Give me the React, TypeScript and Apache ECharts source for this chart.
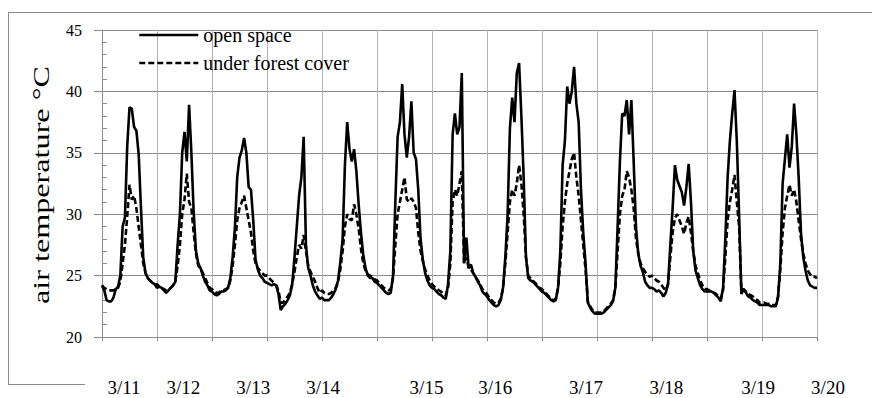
import React, { useEffect, useRef } from "react";
import * as echarts from "echarts";

const seriesNames = ["open space", "under forest cover"];
const yAxisTitle = "air temperature °C";
const dateLabels = ["3/11", "3/12", "3/13", "3/14", "3/15", "3/16", "3/17", "3/18", "3/19", "3/20"];
// where each date text sits, in days from the start of the record
const dateLabelDays = [0.4, 1.48, 2.75, 4.02, 5.9, 7.15, 8.8, 10.26, 11.93, 13.2];
const dayCount = 13;
const stepsPerDay = 24;
const yMin = 20;
const yMax = 45;
const yStep = 5;

// hourly air temperature, open space
const openSpace = [
  24.2, 23.8, 23.0, 22.9, 22.9, 23.2, 23.9, 24.1, 25.0, 29.0, 29.7, 35.5, 38.7, 38.6, 37.1, 36.8, 34.9, 30.5, 26.5, 25.2, 24.8, 24.6, 24.4, 24.3,
  24.0, 24.1, 24.0, 23.8, 23.6, 23.8, 24.0, 24.2, 24.5, 27.5, 30.0, 35.0, 36.7, 34.3, 38.9, 35.0, 30.2, 27.0, 26.0, 25.6, 25.0, 24.5, 24.2, 23.8,
  23.7, 23.5, 23.4, 23.5, 23.7, 23.7, 23.8, 24.0, 24.8, 26.5, 28.9, 33.0, 34.6, 35.2, 36.2, 35.0, 32.2, 32.0, 29.5, 26.3, 25.5, 25.0, 24.8, 24.5,
  24.4, 24.3, 24.2, 24.3, 24.2, 23.5, 22.2, 22.5, 22.7, 23.0, 23.4, 24.3, 26.5, 29.0, 31.5, 33.0, 36.3, 27.5, 25.6, 25.0, 24.2, 23.7, 23.4, 23.1,
  23.2, 23.0, 23.0, 23.0, 23.2, 23.5, 23.9, 24.6, 26.1, 28.0, 34.0, 37.5, 35.3, 34.3, 35.3, 33.5, 30.8, 28.5, 26.7, 25.6, 25.0, 24.8, 24.8, 24.5,
  24.4, 24.2, 24.0, 23.8, 23.6, 23.5, 23.6, 25.0, 31.0, 36.3, 37.5, 40.6, 36.5, 34.6, 36.3, 39.2, 35.0, 34.5, 32.0, 28.0, 26.3, 25.2, 24.6, 24.2,
  24.0, 23.9, 23.7, 23.5, 23.4, 23.2, 23.1, 24.3, 27.0, 36.5, 38.2, 36.5, 37.1, 41.5, 26.0, 28.1, 25.6, 25.9, 25.2, 24.9, 24.5, 24.2, 23.7, 23.5,
  23.3, 23.0, 22.8, 22.6, 22.5, 22.6, 23.0, 24.0, 26.5, 30.0, 37.0, 39.5, 37.5, 41.5, 42.3, 38.0, 33.0, 26.5, 24.8, 24.6, 24.5, 24.3, 24.1, 23.9,
  23.7, 23.6, 23.4, 23.2, 23.0, 22.9, 23.0, 24.0, 27.0, 34.0, 36.0, 40.4, 39.0, 40.0, 42.0, 39.0, 37.5, 32.0, 28.5, 26.0, 22.8, 22.4, 22.1, 21.9,
  21.9, 21.9, 21.9, 22.0, 22.2, 22.4, 22.6, 22.9, 24.0, 29.0, 34.3, 38.2, 38.0, 39.3, 36.5, 39.3, 34.3, 29.0, 26.8, 25.8, 25.3, 24.5, 24.2, 24.0,
  24.0, 23.9, 23.7, 23.8, 23.6, 23.3, 23.6, 24.3, 27.5, 30.5, 34.0, 32.8, 32.3, 31.8, 30.7, 32.2, 34.1, 31.0, 27.0, 25.4, 24.8, 24.2, 23.9, 23.7,
  23.7, 23.7, 23.7, 23.6, 23.4, 23.2, 22.9, 24.0, 28.0, 33.0, 36.0, 38.2, 40.1, 36.0, 30.0, 23.5, 23.9, 23.6, 23.3, 23.2, 23.0, 22.9, 22.8, 22.6,
  22.6, 22.6, 22.6, 22.6, 22.5, 22.5, 22.5, 23.2, 26.0, 32.5, 34.5, 36.5, 33.8, 35.5, 39.0, 36.5, 33.0, 28.5, 26.5, 25.4, 24.6, 24.2, 24.1, 24.0,
  24.0,
];

// hourly air temperature, under forest cover
const forestCover = [
  24.2, 24.0, 23.9, 23.8, 23.8, 23.8, 23.9, 24.0, 24.5, 26.0, 27.5, 29.8, 32.4, 31.2, 31.5, 30.5, 29.0, 27.5, 26.0, 25.2, 24.8, 24.6, 24.4, 24.3,
  24.3, 24.1, 24.0, 23.9, 23.8, 23.9, 24.0, 24.2, 24.5, 25.8, 27.5, 30.0, 31.2, 33.3, 31.0, 30.5, 28.5, 26.8, 25.8, 25.6, 25.2, 24.8, 24.4, 24.0,
  23.9, 23.7, 23.6, 23.6, 23.8, 23.8, 23.9, 24.0, 24.6, 25.8, 27.5, 29.5, 30.5, 31.0, 31.5, 30.5, 29.5, 28.5, 27.0, 26.0, 25.6, 25.4, 25.2, 25.0,
  25.0, 24.8, 24.6, 24.4, 24.2, 23.8, 22.8, 22.8, 23.0, 23.3, 23.6, 24.3, 25.3, 26.5, 27.5, 27.2, 28.3, 27.0, 25.8, 25.3, 24.9, 24.5, 24.0, 23.6,
  23.8, 23.6, 23.5, 23.5, 23.6, 23.8, 24.0, 24.5, 25.5, 27.0, 29.0, 30.0, 29.6, 29.5, 30.8, 30.0, 28.8, 27.2, 26.0, 25.4, 25.1, 25.0, 24.9, 24.7,
  24.6, 24.4, 24.2, 24.0, 23.9, 23.8, 23.9, 24.8, 27.5, 30.0, 31.0, 32.0, 33.0, 31.2, 31.0, 31.3, 31.0, 30.5, 28.5, 27.0, 26.2, 25.5, 25.0, 24.6,
  24.3, 24.1, 24.0, 23.8, 23.7, 23.5, 23.4, 24.0, 26.0, 31.0, 32.0, 31.5, 32.5, 33.5, 26.0, 26.5, 25.6, 25.5, 25.2, 24.9, 24.6, 24.3, 23.9, 23.7,
  23.5, 23.2, 23.0, 22.8, 22.7, 22.8, 23.1, 24.0, 26.0, 28.5, 31.0, 32.0, 31.5, 32.5, 34.0, 32.5, 30.0, 26.5, 25.0, 24.8, 24.6, 24.4, 24.2, 24.0,
  23.9, 23.7, 23.5, 23.3, 23.1, 23.0, 23.1, 24.0, 26.0, 29.0, 31.0, 32.5, 33.5, 34.5, 35.0, 33.0, 31.5, 29.5, 27.5, 25.5, 22.9, 22.5, 22.2, 22.0,
  22.0, 22.0, 22.0, 22.1, 22.3, 22.5, 22.7, 23.0, 24.0, 27.0, 30.0, 31.5, 32.0, 33.5, 33.0, 32.0, 30.5, 28.0, 26.8, 26.0, 25.6, 25.3, 25.1, 24.9,
  25.0, 24.8, 24.6, 24.5, 24.3, 24.0, 23.8, 24.3, 26.5, 28.5, 29.7, 30.0, 29.5, 29.0, 28.4, 29.3, 29.8, 28.5, 27.0, 25.8, 25.2, 24.6, 24.2, 23.9,
  23.9, 23.8, 23.7, 23.6, 23.5, 23.3, 23.1, 23.8, 26.5, 29.5, 31.0, 32.0, 33.2, 31.0, 29.0, 23.8, 23.9, 23.7, 23.5, 23.4, 23.3, 23.1, 23.0, 22.8,
  22.8, 22.8, 22.7, 22.7, 22.6, 22.6, 22.6, 23.3, 25.5, 28.5, 30.5, 31.5, 32.4, 31.5, 32.0, 31.0, 29.5, 28.0, 26.8, 26.0, 25.4, 25.1, 24.9, 24.9,
  24.8,
];

const SERIF = '"Liberation Serif", "Times New Roman", serif';

export default function App() {
  const ref = useRef<HTMLDivElement>(null);

  useEffect(() => {
    document.body.style.margin = "0";
    if (!ref.current) return;
    const chart = echarts.init(ref.current, null, { renderer: "svg" });
    const toPairs = (arr: number[]) => arr.map((v, i) => [i / stepsPerDay, v]);

    chart.setOption({
      animation: false,
      backgroundColor: "#ffffff",
      grid: { left: 102, right: 55, top: 30, bottom: 61, outerBoundsMode: "none" },
      legend: {
        orient: "vertical",
        left: 138,
        top: 25,
        padding: 0,
        itemWidth: 59,
        itemHeight: 14,
        itemGap: 8,
        data: seriesNames,
        itemStyle: { opacity: 0 },
        lineStyle: { width: 2.6 },
        textStyle: { fontFamily: SERIF, fontSize: 20, color: "#000", lineHeight: 20 },
      },
      xAxis: {
        type: "value",
        min: 0,
        max: dayCount,
        interval: 1,
        axisLine: { show: true, lineStyle: { color: "#8c8c8c", width: 1 } },
        axisTick: { show: true, length: 4, lineStyle: { color: "#8c8c8c" } },
        axisLabel: { show: false },
        splitLine: { show: true, lineStyle: { color: "#b0b0b0", width: 1 } },
      },
      yAxis: [
        {
          type: "value",
          min: yMin,
          max: yMax,
          interval: yStep,
          axisLine: { show: true, lineStyle: { color: "#8c8c8c", width: 1 } },
          axisTick: { show: true, length: 8, lineStyle: { color: "#8c8c8c" } },
          axisLabel: { fontFamily: SERIF, fontSize: 16, color: "#000", margin: 20 },
          splitLine: { show: true, lineStyle: { color: "#8c8c8c", width: 1 } },
        },
        {
          type: "value",
          min: yMin,
          max: yMax,
          interval: 1,
          position: "left",
          axisLine: { show: false },
          axisTick: { show: true, inside: true, length: 5, lineStyle: { color: "#8c8c8c" } },
          axisLabel: { show: false },
          splitLine: { show: false },
        },
      ],
      series: [
        {
          name: seriesNames[0],
          type: "line",
          data: toPairs(openSpace),
          symbol: "none",
          silent: true,
          itemStyle: { color: "#000" },
          lineStyle: { color: "#000", width: 2.6 },
          z: 2,
        },
        {
          name: seriesNames[1],
          type: "line",
          data: toPairs(forestCover),
          symbol: "none",
          silent: true,
          itemStyle: { color: "#000" },
          lineStyle: { color: "#000", width: 2.6, type: [6, 3] },
          z: 3,
        },
      ],
    });

    const labelY = 387;
    const labelGraphics = dateLabels.map((t, i) => {
      const x = chart.convertToPixel({ xAxisIndex: 0 }, dateLabelDays[i]) as number;
      return {
        type: "text",
        x,
        y: labelY,
        style: {
          text: t,
          font: `19px ${SERIF}`,
          fill: "#000",
          textAlign: "center",
          textVerticalAlign: "middle",
        },
      };
    });

    chart.setOption({
      graphic: [
        { type: "line", shape: { x1: 8, y1: 12.5, x2: 872, y2: 12.5 }, style: { stroke: "#8c8c8c", lineWidth: 1 } },
        { type: "line", shape: { x1: 8.5, y1: 12, x2: 8.5, y2: 385 }, style: { stroke: "#8c8c8c", lineWidth: 1 } },
        { type: "line", shape: { x1: 8, y1: 384.5, x2: 85, y2: 384.5 }, style: { stroke: "#8c8c8c", lineWidth: 1 } },
        {
          type: "text",
          x: 41,
          y: 185,
          rotation: Math.PI / 2,
          scaleX: 1.4,
          style: {
            text: yAxisTitle,
            font: `23px ${SERIF}`,
            fill: "#000",
            textAlign: "center",
            textVerticalAlign: "middle",
          },
        },
        ...labelGraphics,
      ],
    });

    return () => chart.dispose();
  }, []);

  return <div ref={ref} style={{ width: 872, height: 398 }} />;
}
